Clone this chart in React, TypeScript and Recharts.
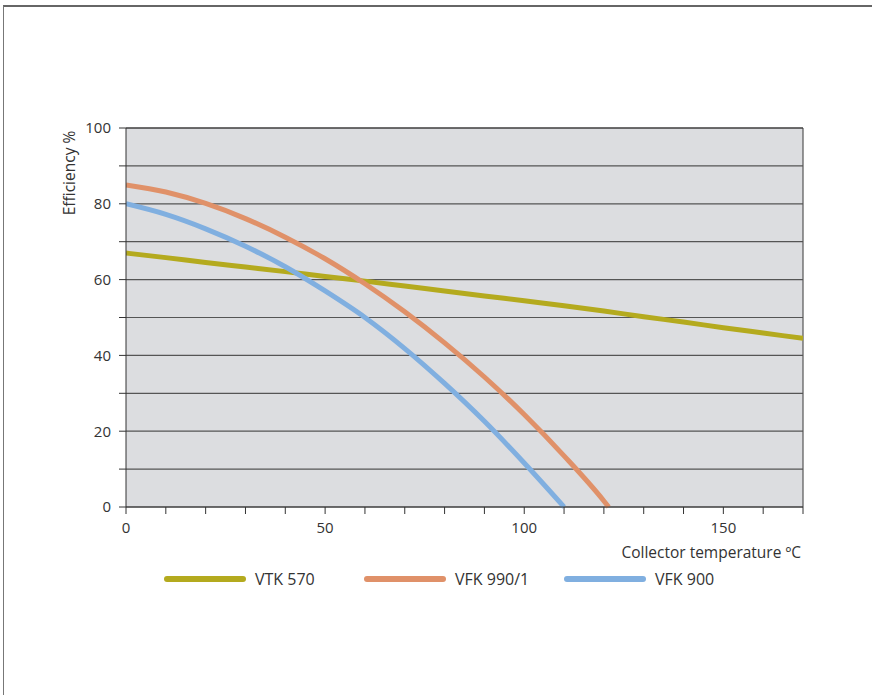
import React from "react";
import { LineChart, Line, XAxis, YAxis, CartesianGrid, ReferenceLine, Label } from "recharts";

// Collector temperature (°C) and efficiency (%)
const vtkTemps = [0, 10, 20, 30, 40, 50, 60, 70, 80, 90, 100, 110, 120, 130, 140, 150, 160, 170];
const vtkEff = [67, 65.8, 64.5, 63.3, 62.1, 60.8, 59.6, 58.3, 57.0, 55.7, 54.4, 53.1, 51.7, 50.2, 48.8, 47.3, 45.9, 44.5];

const vfk990Temps = [0, 10, 20, 30, 40, 50, 60, 70, 80, 90, 100, 110, 120, 121.2];
const vfk990Eff = [85, 83.1, 80.1, 76.1, 71.2, 65.5, 58.9, 51.5, 43.3, 34.3, 24.4, 13.5, 1.6, 0];

const vfk900Temps = [0, 10, 20, 30, 40, 50, 60, 70, 80, 90, 100, 110];
const vfk900Eff = [80, 77.2, 73.4, 68.8, 63.4, 57.0, 50.0, 41.8, 32.6, 22.6, 11.6, 0];

const xTicks = [0, 10, 20, 30, 40, 50, 60, 70, 80, 90, 100, 110, 120, 130, 140, 150, 160, 170];
const xTickLabels = [0, 50, 100, 150];
const yTicks = [0, 10, 20, 30, 40, 50, 60, 70, 80, 90, 100];
const yTickLabels = [0, 20, 40, 60, 80, 100];

const seriesNames = ["VTK 570", "VFK 990/1", "VFK 900"];
const seriesColors = ["#b4aa1e", "#e09169", "#80afe0"];

const toPoints = (t: number[], e: number[]) => t.map((x, i) => ({ t: x, eff: e[i] }));
const seriesData = [
  toPoints(vtkTemps, vtkEff),
  toPoints(vfk990Temps, vfk990Eff),
  toPoints(vfk900Temps, vfk900Eff),
];

const FONT = "'Open Sans', sans-serif";
const TEXT = "#333";

export default function App() {
  return (
    <div style={{ position: "absolute", left: 0, top: 0, width: 872, height: 695, background: "#fff", fontFamily: FONT }}>
      <div
        style={{
          position: "absolute",
          left: 3,
          top: 5,
          width: 869,
          height: 690,
          borderTop: "2px solid #666",
          borderLeft: "1px solid #777",
          boxSizing: "border-box",
        }}
      />
      <div style={{ position: "absolute", left: 0, top: 0 }}>
        <LineChart width={872} height={695} margin={{ top: 128, right: 69, bottom: 158, left: 66 }}>
          <CartesianGrid vertical={false} fill="#dcdde0" stroke="#555" strokeWidth={1.2} />
          <XAxis
            dataKey="t"
            type="number"
            domain={[0, 170]}
            ticks={xTicks}
            allowDataOverflow
            height={30}
            tickSize={7}
            tickMargin={8}
            interval={0}
            tickFormatter={(v: number) => (xTickLabels.includes(v) ? String(v) : "")}
            stroke="#333"
            tick={{ fill: TEXT, fontSize: 15, fontFamily: FONT }}
          >
            <Label
              content={() => (
                <text x={801} y={558} textAnchor="end" fill={TEXT} fontSize={15.5} fontFamily={FONT}>
                  Collector temperature ºC
                </text>
              )}
            />
          </XAxis>
          <YAxis
            type="number"
            domain={[0, 100]}
            ticks={yTicks}
            width={60}
            tickSize={7}
            tickMargin={8}
            interval={0}
            tickFormatter={(v: number) => (yTickLabels.includes(v) ? String(v) : "")}
            stroke="#333"
            tick={{ fill: TEXT, fontSize: 15, fontFamily: FONT }}
          >
            <Label
              content={() => (
                <text
                  x={75}
                  y={173}
                  transform="rotate(-90 75 173)"
                  textAnchor="middle"
                  fill={TEXT}
                  fontSize={15.5}
                  fontFamily={FONT}
                >
                  Efficiency %
                </text>
              )}
            />
          </YAxis>
          <ReferenceLine x={170} stroke="#555" strokeWidth={1.2} />
          <ReferenceLine y={100} stroke="#333" strokeWidth={1.2} />
          {seriesData.map((d, i) => (
            <Line
              key={seriesNames[i]}
              data={d}
              dataKey="eff"
              name={seriesNames[i]}
              type="monotone"
              stroke={seriesColors[i]}
              strokeWidth={5}
              dot={false}
              activeDot={false}
              isAnimationActive={false}
            />
          ))}
        </LineChart>
      </div>
      <div style={{ position: "absolute", left: 163, top: 567, display: "flex" }}>
        {seriesNames.map((n, i) => (
          <div key={n} style={{ width: 200, display: "flex", alignItems: "center", height: 24 }}>
            <svg width={84} height={10} style={{ display: "block" }}>
              <line x1={4} y1={5} x2={80} y2={5} stroke={seriesColors[i]} strokeWidth={6} strokeLinecap="round" />
            </svg>
            <span style={{ marginLeft: 8, fontSize: 16, color: TEXT, fontFamily: FONT }}>{n}</span>
          </div>
        ))}
      </div>
    </div>
  );
}
